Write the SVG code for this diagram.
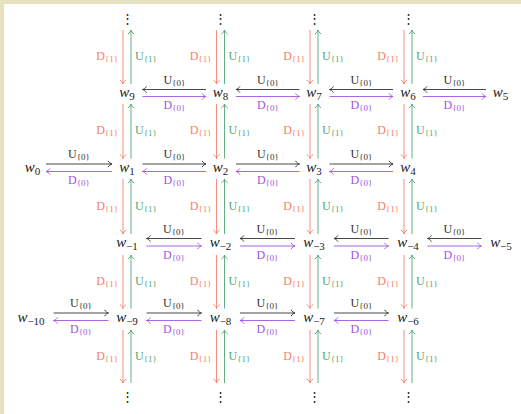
<svg xmlns="http://www.w3.org/2000/svg" width="521" height="414" viewBox="0 0 521 414">
<style>
.w{font-family:"Liberation Serif",serif;font-style:italic;font-size:15px;fill:#222}
.w tspan{font-style:normal;font-size:11px}
.lb{font-family:"Liberation Serif",serif;font-size:12px}
.lb tspan{font-size:9px}
.k{fill:#333}.p{fill:#a155dd}.r{fill:#f5806c}.g{fill:#4fa676}
.lk{stroke:#333;stroke-width:0.9;fill:none;marker-end:url(#mk)}
.lp{stroke:#a155dd;stroke-width:0.9;fill:none;marker-end:url(#mp)}
.lr{stroke:#f5806c;stroke-width:0.9;fill:none;marker-end:url(#mr)}
.lg{stroke:#4fa676;stroke-width:0.9;fill:none;marker-end:url(#mg)}
.dots{font-family:"DejaVu Serif",serif;font-size:13px;fill:#222}
</style>
<defs>
<marker id="mk" markerUnits="userSpaceOnUse" viewBox="-5 -4 6 8" refX="0" refY="0" markerWidth="6" markerHeight="8" orient="auto"><path d="M-4,-3.2 C-3,-1.4 -1.2,-0.3 0,0 C-1.2,0.3 -3,1.4 -4,3.2" fill="none" stroke="#333" stroke-width="0.9"/></marker>
<marker id="mp" markerUnits="userSpaceOnUse" viewBox="-5 -4 6 8" refX="0" refY="0" markerWidth="6" markerHeight="8" orient="auto"><path d="M-4,-3.2 C-3,-1.4 -1.2,-0.3 0,0 C-1.2,0.3 -3,1.4 -4,3.2" fill="none" stroke="#a155dd" stroke-width="0.9"/></marker>
<marker id="mr" markerUnits="userSpaceOnUse" viewBox="-5 -4 6 8" refX="0" refY="0" markerWidth="6" markerHeight="8" orient="auto"><path d="M-4,-3.2 C-3,-1.4 -1.2,-0.3 0,0 C-1.2,0.3 -3,1.4 -4,3.2" fill="none" stroke="#f5806c" stroke-width="0.9"/></marker>
<marker id="mg" markerUnits="userSpaceOnUse" viewBox="-5 -4 6 8" refX="0" refY="0" markerWidth="6" markerHeight="8" orient="auto"><path d="M-4,-3.2 C-3,-1.4 -1.2,-0.3 0,0 C-1.2,0.3 -3,1.4 -4,3.2" fill="none" stroke="#4fa676" stroke-width="0.9"/></marker>
</defs>
<rect x="0" y="0" width="521" height="414" fill="#e6e2c0"/>
<rect x="4" y="4" width="517" height="410" fill="#ffffff"/>

<g id="connectors">
<!-- Row 1: U0 left, D0 right -->
<line class="lk" x1="206" y1="89.5" x2="142.5" y2="89.5"/><line class="lp" x1="142.5" y1="96.5" x2="206" y2="96.5"/>
<line class="lk" x1="299.5" y1="89.5" x2="236" y2="89.5"/><line class="lp" x1="236" y1="96.5" x2="299.5" y2="96.5"/>
<line class="lk" x1="393" y1="89.5" x2="329.5" y2="89.5"/><line class="lp" x1="329.5" y1="96.5" x2="393" y2="96.5"/>
<line class="lk" x1="486" y1="89.5" x2="423" y2="89.5"/><line class="lp" x1="423" y1="96.5" x2="486" y2="96.5"/>
<text class="lb k" x="174.3" y="83.5" text-anchor="middle">U<tspan dy="2">{0}</tspan></text><text class="lb p" x="174.3" y="109" text-anchor="middle">D<tspan dy="2">{0}</tspan></text>
<text class="lb k" x="267.8" y="83.5" text-anchor="middle">U<tspan dy="2">{0}</tspan></text><text class="lb p" x="267.8" y="109" text-anchor="middle">D<tspan dy="2">{0}</tspan></text>
<text class="lb k" x="361.3" y="83.5" text-anchor="middle">U<tspan dy="2">{0}</tspan></text><text class="lb p" x="361.3" y="109" text-anchor="middle">D<tspan dy="2">{0}</tspan></text>
<text class="lb k" x="454.5" y="83.5" text-anchor="middle">U<tspan dy="2">{0}</tspan></text><text class="lb p" x="454.5" y="109" text-anchor="middle">D<tspan dy="2">{0}</tspan></text>
<!-- Row 2: U0 right, D0 left -->
<line class="lk" x1="46" y1="164" x2="112" y2="164"/><line class="lp" x1="112" y1="171.5" x2="46" y2="171.5"/>
<line class="lk" x1="142.5" y1="164" x2="206" y2="164"/><line class="lp" x1="206" y1="171.5" x2="142.5" y2="171.5"/>
<line class="lk" x1="236" y1="164" x2="299.5" y2="164"/><line class="lp" x1="299.5" y1="171.5" x2="236" y2="171.5"/>
<line class="lk" x1="329.5" y1="164" x2="393" y2="164"/><line class="lp" x1="393" y1="171.5" x2="329.5" y2="171.5"/>
<text class="lb k" x="79" y="158" text-anchor="middle">U<tspan dy="2">{0}</tspan></text><text class="lb p" x="79" y="184" text-anchor="middle">D<tspan dy="2">{0}</tspan></text>
<text class="lb k" x="174.3" y="158" text-anchor="middle">U<tspan dy="2">{0}</tspan></text><text class="lb p" x="174.3" y="184" text-anchor="middle">D<tspan dy="2">{0}</tspan></text>
<text class="lb k" x="267.8" y="158" text-anchor="middle">U<tspan dy="2">{0}</tspan></text><text class="lb p" x="267.8" y="184" text-anchor="middle">D<tspan dy="2">{0}</tspan></text>
<text class="lb k" x="361.3" y="158" text-anchor="middle">U<tspan dy="2">{0}</tspan></text><text class="lb p" x="361.3" y="184" text-anchor="middle">D<tspan dy="2">{0}</tspan></text>
<!-- Row 3: U0 left, D0 right -->
<line class="lk" x1="201.5" y1="238.5" x2="146.5" y2="238.5"/><line class="lp" x1="146.5" y1="246" x2="201.5" y2="246"/>
<line class="lk" x1="295" y1="238.5" x2="240" y2="238.5"/><line class="lp" x1="240" y1="246" x2="295" y2="246"/>
<line class="lk" x1="388.5" y1="238.5" x2="334" y2="238.5"/><line class="lp" x1="334" y1="246" x2="388.5" y2="246"/>
<line class="lk" x1="481.5" y1="238.5" x2="427.5" y2="238.5"/><line class="lp" x1="427.5" y1="246" x2="481.5" y2="246"/>
<text class="lb k" x="174" y="232.5" text-anchor="middle">U<tspan dy="2">{0}</tspan></text><text class="lb p" x="174" y="258.5" text-anchor="middle">D<tspan dy="2">{0}</tspan></text>
<text class="lb k" x="267.5" y="232.5" text-anchor="middle">U<tspan dy="2">{0}</tspan></text><text class="lb p" x="267.5" y="258.5" text-anchor="middle">D<tspan dy="2">{0}</tspan></text>
<text class="lb k" x="361.3" y="232.5" text-anchor="middle">U<tspan dy="2">{0}</tspan></text><text class="lb p" x="361.3" y="258.5" text-anchor="middle">D<tspan dy="2">{0}</tspan></text>
<text class="lb k" x="454.5" y="232.5" text-anchor="middle">U<tspan dy="2">{0}</tspan></text><text class="lb p" x="454.5" y="258.5" text-anchor="middle">D<tspan dy="2">{0}</tspan></text>
<!-- Row 4: U0 right, D0 left -->
<line class="lk" x1="53.5" y1="313" x2="108.5" y2="313"/><line class="lp" x1="108.5" y1="320.5" x2="53.5" y2="320.5"/>
<line class="lk" x1="146.5" y1="313" x2="201.5" y2="313"/><line class="lp" x1="201.5" y1="320.5" x2="146.5" y2="320.5"/>
<line class="lk" x1="240" y1="313" x2="295" y2="313"/><line class="lp" x1="295" y1="320.5" x2="240" y2="320.5"/>
<line class="lk" x1="334" y1="313" x2="388.5" y2="313"/><line class="lp" x1="388.5" y1="320.5" x2="334" y2="320.5"/>
<text class="lb k" x="81" y="307" text-anchor="middle">U<tspan dy="2">{0}</tspan></text><text class="lb p" x="81" y="333" text-anchor="middle">D<tspan dy="2">{0}</tspan></text>
<text class="lb k" x="174" y="307" text-anchor="middle">U<tspan dy="2">{0}</tspan></text><text class="lb p" x="174" y="333" text-anchor="middle">D<tspan dy="2">{0}</tspan></text>
<text class="lb k" x="267.5" y="307" text-anchor="middle">U<tspan dy="2">{0}</tspan></text><text class="lb p" x="267.5" y="333" text-anchor="middle">D<tspan dy="2">{0}</tspan></text>
<text class="lb k" x="361.3" y="307" text-anchor="middle">U<tspan dy="2">{0}</tspan></text><text class="lb p" x="361.3" y="333" text-anchor="middle">D<tspan dy="2">{0}</tspan></text>

<!-- Vertical: D down (left), U up (right) -->
<line class="lr" x1="123" y1="30" x2="123" y2="84"/><line class="lg" x1="131" y1="84" x2="131" y2="30"/>
<line class="lr" x1="123" y1="104" x2="123" y2="158.5"/><line class="lg" x1="131" y1="158.5" x2="131" y2="104"/>
<line class="lr" x1="123" y1="179" x2="123" y2="234"/><line class="lg" x1="131" y1="234" x2="131" y2="179"/>
<line class="lr" x1="123" y1="255" x2="123" y2="308.5"/><line class="lg" x1="131" y1="308.5" x2="131" y2="255"/>
<line class="lr" x1="123" y1="330" x2="123" y2="383"/><line class="lg" x1="131" y1="383" x2="131" y2="330"/>
<line class="lr" x1="216.5" y1="30" x2="216.5" y2="84"/><line class="lg" x1="224.5" y1="84" x2="224.5" y2="30"/>
<line class="lr" x1="216.5" y1="104" x2="216.5" y2="158.5"/><line class="lg" x1="224.5" y1="158.5" x2="224.5" y2="104"/>
<line class="lr" x1="216.5" y1="179" x2="216.5" y2="234"/><line class="lg" x1="224.5" y1="234" x2="224.5" y2="179"/>
<line class="lr" x1="216.5" y1="255" x2="216.5" y2="308.5"/><line class="lg" x1="224.5" y1="308.5" x2="224.5" y2="255"/>
<line class="lr" x1="216.5" y1="330" x2="216.5" y2="383"/><line class="lg" x1="224.5" y1="383" x2="224.5" y2="330"/>
<line class="lr" x1="310" y1="30" x2="310" y2="84"/><line class="lg" x1="318" y1="84" x2="318" y2="30"/>
<line class="lr" x1="310" y1="104" x2="310" y2="158.5"/><line class="lg" x1="318" y1="158.5" x2="318" y2="104"/>
<line class="lr" x1="310" y1="179" x2="310" y2="234"/><line class="lg" x1="318" y1="234" x2="318" y2="179"/>
<line class="lr" x1="310" y1="255" x2="310" y2="308.5"/><line class="lg" x1="318" y1="308.5" x2="318" y2="255"/>
<line class="lr" x1="310" y1="330" x2="310" y2="383"/><line class="lg" x1="318" y1="383" x2="318" y2="330"/>
<line class="lr" x1="404" y1="30" x2="404" y2="84"/><line class="lg" x1="412" y1="84" x2="412" y2="30"/>
<line class="lr" x1="404" y1="104" x2="404" y2="158.5"/><line class="lg" x1="412" y1="158.5" x2="412" y2="104"/>
<line class="lr" x1="404" y1="179" x2="404" y2="234"/><line class="lg" x1="412" y1="234" x2="412" y2="179"/>
<line class="lr" x1="404" y1="255" x2="404" y2="308.5"/><line class="lg" x1="412" y1="308.5" x2="412" y2="255"/>
<line class="lr" x1="404" y1="330" x2="404" y2="383"/><line class="lg" x1="412" y1="383" x2="412" y2="330"/>

<!-- vertical labels -->
<text class="lb r" x="118" y="60" text-anchor="end">D<tspan dy="2">{1}</tspan></text><text class="lb g" x="135" y="60">U<tspan dy="2">{1}</tspan></text>
<text class="lb r" x="118" y="134" text-anchor="end">D<tspan dy="2">{1}</tspan></text><text class="lb g" x="135" y="134">U<tspan dy="2">{1}</tspan></text>
<text class="lb r" x="118" y="209.5" text-anchor="end">D<tspan dy="2">{1}</tspan></text><text class="lb g" x="135" y="209.5">U<tspan dy="2">{1}</tspan></text>
<text class="lb r" x="118" y="284.5" text-anchor="end">D<tspan dy="2">{1}</tspan></text><text class="lb g" x="135" y="284.5">U<tspan dy="2">{1}</tspan></text>
<text class="lb r" x="118" y="359.5" text-anchor="end">D<tspan dy="2">{1}</tspan></text><text class="lb g" x="135" y="359.5">U<tspan dy="2">{1}</tspan></text>

<text class="lb r" x="211.5" y="60" text-anchor="end">D<tspan dy="2">{1}</tspan></text><text class="lb g" x="228.5" y="60">U<tspan dy="2">{1}</tspan></text>
<text class="lb r" x="211.5" y="134" text-anchor="end">D<tspan dy="2">{1}</tspan></text><text class="lb g" x="228.5" y="134">U<tspan dy="2">{1}</tspan></text>
<text class="lb r" x="211.5" y="209.5" text-anchor="end">D<tspan dy="2">{1}</tspan></text><text class="lb g" x="228.5" y="209.5">U<tspan dy="2">{1}</tspan></text>
<text class="lb r" x="211.5" y="284.5" text-anchor="end">D<tspan dy="2">{1}</tspan></text><text class="lb g" x="228.5" y="284.5">U<tspan dy="2">{1}</tspan></text>
<text class="lb r" x="211.5" y="359.5" text-anchor="end">D<tspan dy="2">{1}</tspan></text><text class="lb g" x="228.5" y="359.5">U<tspan dy="2">{1}</tspan></text>

<text class="lb r" x="305" y="60" text-anchor="end">D<tspan dy="2">{1}</tspan></text><text class="lb g" x="322" y="60">U<tspan dy="2">{1}</tspan></text>
<text class="lb r" x="305" y="134" text-anchor="end">D<tspan dy="2">{1}</tspan></text><text class="lb g" x="322" y="134">U<tspan dy="2">{1}</tspan></text>
<text class="lb r" x="305" y="209.5" text-anchor="end">D<tspan dy="2">{1}</tspan></text><text class="lb g" x="322" y="209.5">U<tspan dy="2">{1}</tspan></text>
<text class="lb r" x="305" y="284.5" text-anchor="end">D<tspan dy="2">{1}</tspan></text><text class="lb g" x="322" y="284.5">U<tspan dy="2">{1}</tspan></text>
<text class="lb r" x="305" y="359.5" text-anchor="end">D<tspan dy="2">{1}</tspan></text><text class="lb g" x="322" y="359.5">U<tspan dy="2">{1}</tspan></text>

<text class="lb r" x="399" y="60" text-anchor="end">D<tspan dy="2">{1}</tspan></text><text class="lb g" x="416" y="60">U<tspan dy="2">{1}</tspan></text>
<text class="lb r" x="399" y="134" text-anchor="end">D<tspan dy="2">{1}</tspan></text><text class="lb g" x="416" y="134">U<tspan dy="2">{1}</tspan></text>
<text class="lb r" x="399" y="209.5" text-anchor="end">D<tspan dy="2">{1}</tspan></text><text class="lb g" x="416" y="209.5">U<tspan dy="2">{1}</tspan></text>
<text class="lb r" x="399" y="284.5" text-anchor="end">D<tspan dy="2">{1}</tspan></text><text class="lb g" x="416" y="284.5">U<tspan dy="2">{1}</tspan></text>
<text class="lb r" x="399" y="359.5" text-anchor="end">D<tspan dy="2">{1}</tspan></text><text class="lb g" x="416" y="359.5">U<tspan dy="2">{1}</tspan></text>
</g>

<g id="dots-top">
<text class="dots" x="127" y="23" text-anchor="middle">⋮</text>
<text class="dots" x="220.5" y="23" text-anchor="middle">⋮</text>
<text class="dots" x="314" y="23" text-anchor="middle">⋮</text>
<text class="dots" x="408" y="23" text-anchor="middle">⋮</text>
</g>
<g id="dots-bottom">
<text class="dots" x="127" y="401" text-anchor="middle">⋮</text>
<text class="dots" x="220.5" y="401" text-anchor="middle">⋮</text>
<text class="dots" x="314" y="401" text-anchor="middle">⋮</text>
<text class="dots" x="408" y="401" text-anchor="middle">⋮</text>
</g>

<g id="w9"><text class="w" x="127" y="97" text-anchor="middle">w<tspan dy="3">9</tspan></text></g>
<g id="w8"><text class="w" x="220.5" y="97" text-anchor="middle">w<tspan dy="3">8</tspan></text></g>
<g id="w7"><text class="w" x="314" y="97" text-anchor="middle">w<tspan dy="3">7</tspan></text></g>
<g id="w6"><text class="w" x="408" y="97" text-anchor="middle">w<tspan dy="3">6</tspan></text></g>
<g id="w5"><text class="w" x="500.5" y="97" text-anchor="middle">w<tspan dy="3">5</tspan></text></g>

<g id="w0"><text class="w" x="32.5" y="171.5" text-anchor="middle">w<tspan dy="3">0</tspan></text></g>
<g id="w1"><text class="w" x="127" y="171.5" text-anchor="middle">w<tspan dy="3">1</tspan></text></g>
<g id="w2"><text class="w" x="220.5" y="171.5" text-anchor="middle">w<tspan dy="3">2</tspan></text></g>
<g id="w3"><text class="w" x="314" y="171.5" text-anchor="middle">w<tspan dy="3">3</tspan></text></g>
<g id="w4"><text class="w" x="408" y="171.5" text-anchor="middle">w<tspan dy="3">4</tspan></text></g>

<g id="w-1"><text class="w" x="127" y="246.5" text-anchor="middle">w<tspan dy="3">−1</tspan></text></g>
<g id="w-2"><text class="w" x="220.5" y="246.5" text-anchor="middle">w<tspan dy="3">−2</tspan></text></g>
<g id="w-3"><text class="w" x="314" y="246.5" text-anchor="middle">w<tspan dy="3">−3</tspan></text></g>
<g id="w-4"><text class="w" x="408" y="246.5" text-anchor="middle">w<tspan dy="3">−4</tspan></text></g>
<g id="w-5"><text class="w" x="501" y="246.5" text-anchor="middle">w<tspan dy="3">−5</tspan></text></g>

<g id="w-10"><text class="w" x="31" y="321.5" text-anchor="middle">w<tspan dy="3">−10</tspan></text></g>
<g id="w-9"><text class="w" x="127" y="321.5" text-anchor="middle">w<tspan dy="3">−9</tspan></text></g>
<g id="w-8"><text class="w" x="220.5" y="321.5" text-anchor="middle">w<tspan dy="3">−8</tspan></text></g>
<g id="w-7"><text class="w" x="314" y="321.5" text-anchor="middle">w<tspan dy="3">−7</tspan></text></g>
<g id="w-6"><text class="w" x="408" y="321.5" text-anchor="middle">w<tspan dy="3">−6</tspan></text></g>
</svg>
